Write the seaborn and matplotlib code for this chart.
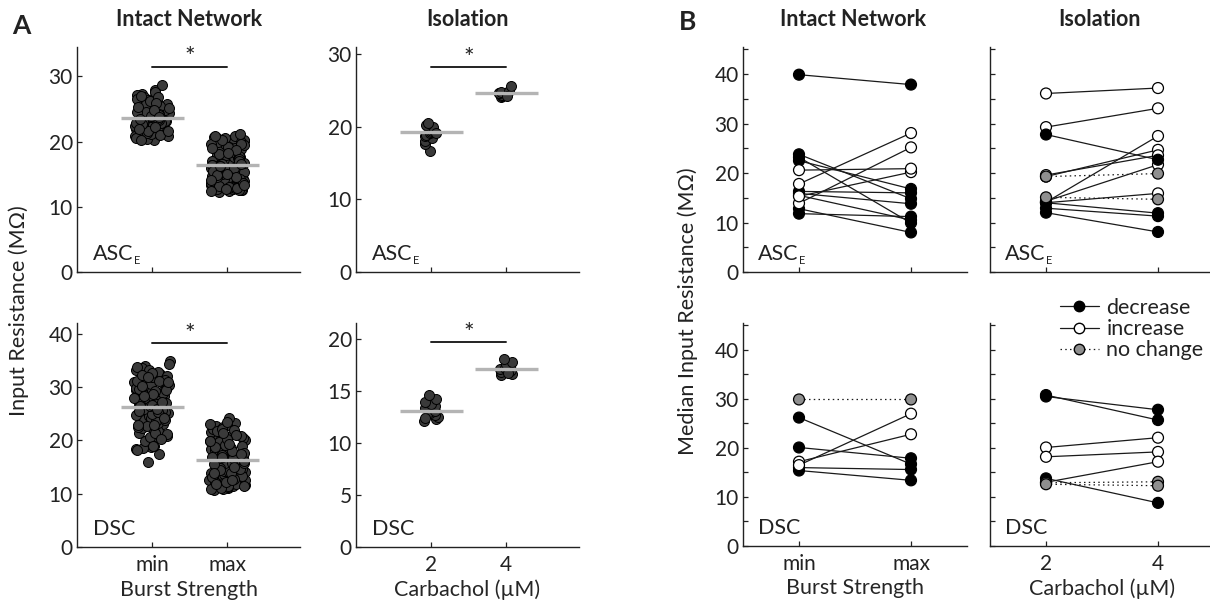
import numpy as np
import pandas as pd
import matplotlib
matplotlib.use("Agg")
import matplotlib.pyplot as plt
import seaborn as sns
from matplotlib.lines import Line2D

# ---------------- data ----------------
# Panel A : all measured values (MOhm)
asc_int_min = [20.3, 22.7, 24.9, 26.5, 23.1, 21.4, 25.6, 27.3, 22.0, 24.2, 20.8, 23.8, 26.1, 21.9, 25.0,
               27.9, 22.4, 24.6, 20.6, 23.4, 26.8, 21.2, 25.3, 22.9, 24.0, 28.6, 21.7, 23.6, 26.3, 20.9,
               24.4, 22.2, 25.8, 23.2, 21.5, 27.1, 24.7, 22.6, 20.4, 23.9, 26.0, 21.1, 25.4, 23.5, 22.1,
               24.8, 27.6, 21.8, 23.0, 25.2, 20.7, 24.1, 22.5, 26.6, 23.7, 21.3, 25.5, 22.8, 24.3, 23.3,
               21.6, 23.4, 25.7, 22.3, 24.5, 26.2, 20.5, 23.1, 25.1, 22.7, 24.0, 26.9, 21.0, 23.9, 25.9,
               22.9, 24.6, 20.2, 23.5, 25.3, 22.0, 24.9, 27.0, 21.6, 23.8]
asc_int_max = [12.4, 13.1, 12.8, 14.2, 15.6, 13.7, 16.9, 18.3, 19.5, 20.4, 12.6, 14.9, 17.2, 19.1, 16.1,
               13.4, 15.2, 18.8, 20.1, 17.6, 12.9, 14.4, 16.5, 19.8, 15.9, 13.9, 18.0, 20.6, 17.4, 14.7,
               12.5, 16.3, 19.3, 15.0, 13.3, 17.9, 20.9, 16.7, 14.1, 18.5, 12.7, 15.4, 19.6, 17.0, 13.6,
               16.4, 20.3, 14.5, 18.6, 15.7, 12.3, 17.7, 19.9, 13.8, 16.0, 21.2, 14.8, 18.2, 15.3, 13.0,
               17.3, 19.0, 16.6, 12.9, 20.7, 15.8, 14.3, 18.9, 16.2, 13.5, 17.5, 19.4, 15.1, 12.8, 20.0,
               16.8, 14.0, 18.4, 15.5, 13.2, 17.1, 19.7, 16.4, 14.6,
               12.5, 14.3, 16.2, 18.1, 20.5, 13.1, 15.5, 17.8, 19.2, 12.9, 14.9, 16.7, 18.7, 20.2, 13.6,
               15.9, 17.4, 19.6, 12.4, 14.6, 16.3, 18.3, 20.8, 13.3, 15.1, 17.0, 19.0, 12.7, 14.1, 16.6]
asc_iso_2 = [16.7, 17.6, 18.0, 18.4, 18.7, 18.9, 19.1, 19.3, 19.4, 19.6, 19.8, 20.0, 20.2, 20.5, 19.2]
asc_iso_4 = [24.1, 24.3, 24.4, 24.5, 24.6, 24.6, 24.7, 24.8, 25.0, 25.6, 24.2]
dsc_int_min = [17.5, 16.0, 18.3, 19.2, 20.1, 20.6, 21.4, 22.3, 23.0, 23.8, 24.5, 25.1, 25.9, 26.6, 27.3,
               28.0, 28.8, 29.5, 30.2, 31.0, 31.7, 32.5, 33.2, 34.0, 34.8, 34.3, 18.8, 20.4, 22.0, 23.5,
               25.4, 26.9, 28.4, 29.9, 31.4, 32.9, 19.6, 21.8, 24.1, 26.3, 27.8, 29.2, 30.7, 32.1, 33.6,
               18.5, 20.9, 22.7, 24.8, 26.1, 27.6, 29.0, 30.5, 31.9, 33.1, 19.9, 21.1, 23.3, 25.6, 27.0,
               28.6, 30.0, 31.3, 32.6, 20.2, 22.5, 24.3, 26.5, 28.2, 29.7, 31.1, 23.7, 25.0, 27.4, 28.9,
               30.3, 18.1, 26.8, 29.3, 25.3,
               19.0, 21.6, 23.9, 26.4, 28.7, 31.2, 33.8, 20.7, 22.9, 25.5, 27.9, 30.1, 32.3, 18.9, 21.3,
               24.2, 26.7, 29.4, 31.8, 20.3, 22.8, 25.8, 28.3, 30.9, 27.2]
dsc_int_max = [10.6, 11.2, 11.7, 12.3, 12.8, 13.4, 13.9, 14.5, 15.0, 15.6, 16.1, 16.7, 17.2, 17.8, 18.3,
               18.9, 19.4, 20.0, 20.5, 21.1, 21.6, 22.2, 22.7, 23.3, 24.2, 11.0, 11.9, 12.6, 13.2, 14.1,
               14.8, 15.4, 16.3, 17.0, 17.6, 18.5, 19.2, 20.3, 21.4, 22.5, 23.0, 11.4, 12.1, 12.9, 13.6,
               14.3, 15.2, 15.9, 16.5, 17.4, 18.1, 19.0, 19.8, 20.8, 21.9, 10.9, 11.6, 12.4, 13.0, 13.7,
               14.6, 15.3, 16.0, 16.9, 17.9, 18.7, 19.6, 20.6, 21.7, 22.9, 11.3, 12.0, 12.7, 13.5, 14.2,
               15.1, 16.4, 17.3, 11.8, 12.5, 13.3, 14.0, 14.9, 15.7, 22.0, 11.5,
               11.1, 12.2, 13.1, 14.4, 15.5, 16.6, 17.7, 18.8, 19.9, 21.0, 22.1, 23.5, 10.8, 11.9, 12.8,
               13.8, 14.7, 15.8, 16.8, 18.0, 19.1, 20.2, 21.3, 11.4, 12.6, 13.9, 15.0, 16.2, 17.5, 19.3]
dsc_iso_2 = [12.1, 12.3, 12.5, 12.7, 12.9, 13.0, 13.1, 13.3, 13.5, 13.7, 13.9, 14.2, 14.6, 12.4]
dsc_iso_4 = [16.5, 16.6, 16.8, 16.9, 17.0, 17.1, 17.2, 17.4, 17.6, 17.8, 18.0, 16.7]

# group medians (grey bars)
med_asc_int = [23.6, 16.4]
med_asc_iso = [19.3, 24.6]
med_dsc_int = [26.3, 16.3]
med_dsc_iso = [13.1, 17.05]

burst_labels = ["min", "max"]
carb_labels = ["2", "4"]

# Panel B : per-cell medians (first, second condition) and direction of change
b_asc_int_pre = [39.9, 23.8, 23.2, 22.5, 16.3, 15.9, 15.5, 12.8, 11.8, 17.8, 13.9, 15.3, 20.6]
b_asc_int_post = [37.9, 14.8, 9.9, 16.8, 16.0, 13.8, 10.5, 8.0, 11.2, 28.1, 25.2, 20.2, 20.9]
b_asc_int_chg = ["decrease"] * 9 + ["increase"] * 4

b_asc_iso_pre = [36.1, 29.3, 19.3, 19.6, 14.1, 14.3, 14.0, 27.8, 14.0, 12.9, 12.0, 19.3, 15.1]
b_asc_iso_post = [37.2, 33.1, 24.7, 23.6, 27.5, 21.7, 15.9, 22.7, 11.9, 11.3, 8.1, 19.9, 14.7]
b_asc_iso_chg = ["increase"] * 7 + ["decrease"] * 4 + ["no change"] * 2

b_dsc_int_pre = [29.9, 26.2, 20.1, 16.0, 15.4, 17.2, 16.5]
b_dsc_int_post = [29.9, 16.7, 17.9, 15.6, 13.4, 22.8, 27.0]
b_dsc_int_chg = ["no change", "decrease", "decrease", "decrease", "decrease", "increase", "increase"]

b_dsc_iso_pre = [30.8, 30.5, 20.1, 18.2, 13.0, 13.8, 12.9, 12.6]
b_dsc_iso_post = [25.7, 27.8, 22.1, 19.2, 17.2, 8.8, 13.1, 12.3]
b_dsc_iso_chg = ["decrease", "decrease", "increase", "increase", "increase", "decrease", "no change", "no change"]

# ---------------- style ----------------
sns.set_theme(style="ticks")
plt.rcParams["font.family"] = ["Lato", "DejaVu Sans"]
plt.rcParams["axes.edgecolor"] = "#222222"
plt.rcParams["xtick.color"] = "#222222"
plt.rcParams["ytick.color"] = "#222222"
plt.rcParams["text.color"] = "#222222"

TICK_FS = 15
LAB_FS = 15.5
TITLE_FS = 15.5

np.random.seed(3)

fig = plt.figure(figsize=(12.1, 6.05), dpi=100)
W, H = 1210.0, 605.0


def add_ax(x0, y_bottom, w, h):
    return fig.add_axes([x0 / W, 1 - y_bottom / H, w / W, h / H])


axA = [[add_ax(77, 272, 223, 225), add_ax(356, 272, 223, 225)],
       [add_ax(77, 547, 223, 224), add_ax(356, 547, 223, 224)]]
axB = [[add_ax(743, 272, 224, 225), add_ax(990, 272, 224, 225)],
       [add_ax(743, 546, 224, 223), add_ax(990, 546, 224, 223)]]


def style_ax(ax):
    sns.despine(ax=ax)
    for s in ("left", "bottom"):
        ax.spines[s].set_linewidth(1.0)
    ax.tick_params(direction="in", length=3.5, width=0.9, labelsize=TICK_FS, pad=3)
    ax.tick_params(axis="x", pad=6)
    ax.set_xlabel("")
    ax.set_ylabel("")


def add_tag(ax, x, tag):
    if tag == "ASC":
        t = ax.text(x, 0.035, "ASC", transform=ax.transAxes, fontsize=LAB_FS, ha="left", va="bottom")
        ax.annotate("E", xy=(1.0, 0.0), xycoords=t, xytext=(0.5, -1.5), textcoords="offset points",
                    fontsize=8, ha="left", va="bottom")
    else:
        ax.text(x, 0.035, tag, transform=ax.transAxes, fontsize=LAB_FS, ha="left", va="bottom")


def panel_A(ax, v1, v2, labels, med, ylim, yticks, sig_y, jit, show_x, xlabel, tag):
    df = pd.DataFrame({"g": [labels[0]] * len(v1) + [labels[1]] * len(v2),
                       "v": list(v1) + list(v2)})
    sns.stripplot(data=df, x="g", y="v", order=labels, ax=ax, jitter=jit, size=7.2,
                  color="#3a3a3a", edgecolor="black", linewidth=0.7, zorder=2)
    ax.hlines(med, [i - 0.42 for i in range(2)], [i + 0.42 for i in range(2)],
              color="#b4b4b4", lw=2.4, zorder=3)
    ax.plot([0, 1], [sig_y, sig_y], color="#222222", lw=1.4)
    ax.annotate("*", xy=(0.5, sig_y), xytext=(0, -2), textcoords="offset points",
                ha="center", va="bottom", fontsize=18)
    ax.set_xlim(-1, 1.97)
    ax.set_ylim(*ylim)
    ax.set_yticks(yticks)
    ax.set_xticks([0, 1])
    style_ax(ax)
    if show_x:
        ax.set_xticklabels(labels)
        ax.set_xlabel(xlabel, fontsize=LAB_FS, labelpad=3)
    else:
        ax.set_xticklabels([])
    add_tag(ax, 0.07, tag)


panel_A(axA[0][0], asc_int_min, asc_int_max, burst_labels, med_asc_int, (0, 34.5), [0, 10, 20, 30],
        31.5, 0.24, False, "", "ASC")
panel_A(axA[0][1], asc_iso_2, asc_iso_4, carb_labels, med_asc_iso, (0, 31), [0, 10, 20, 30],
        28.2, 0.1, False, "", "ASC")
panel_A(axA[1][0], dsc_int_min, dsc_int_max, burst_labels, med_dsc_int, (0, 42), [0, 10, 20, 30, 40],
        38.3, 0.24, True, "Burst Strength", "DSC")
panel_A(axA[1][1], dsc_iso_2, dsc_iso_4, carb_labels, med_dsc_iso, (0, 21.5), [0, 5, 10, 15, 20],
        19.7, 0.1, True, "Carbachol (µM)", "DSC")

pal = {"decrease": "black", "increase": "white", "no change": "#8f8f8f"}
dash = {"decrease": "", "increase": "", "no change": (1.2, 2.6)}


def panel_B(ax, pre, post, chg, labels, show_x, show_y, xlabel, tag):
    n = len(pre)
    df = pd.DataFrame({"pair": list(range(n)) * 2,
                       "cond": [0] * n + [1] * n,
                       "val": list(pre) + list(post),
                       "change": list(chg) * 2})
    sns.lineplot(data=df, x="cond", y="val", units="pair", estimator=None, style="change",
                 dashes=dash, color="#1a1a1a", lw=0.9, legend=False, ax=ax, sort=False, zorder=1)
    sns.scatterplot(data=df, x="cond", y="val", hue="change", palette=pal, edgecolor="black",
                    s=62, linewidth=0.9, legend=False, ax=ax, zorder=3)
    ax.set_xlim(-0.5, 1.5)
    ax.set_ylim(0, 45.5)
    ax.set_yticks(np.arange(0, 50, 5))
    style_ax(ax)
    if show_y:
        ax.set_yticklabels(["0", "", "10", "", "20", "", "30", "", "40", ""])
    else:
        ax.set_yticklabels([])
    ax.set_xticks([0, 1])
    if show_x:
        ax.set_xticklabels(labels)
        ax.set_xlabel(xlabel, fontsize=LAB_FS, labelpad=3)
    else:
        ax.set_xticklabels([])
    add_tag(ax, 0.067, tag)


panel_B(axB[0][0], b_asc_int_pre, b_asc_int_post, b_asc_int_chg, burst_labels, False, True, "", "ASC")
panel_B(axB[0][1], b_asc_iso_pre, b_asc_iso_post, b_asc_iso_chg, carb_labels, False, False, "", "ASC")
panel_B(axB[1][0], b_dsc_int_pre, b_dsc_int_post, b_dsc_int_chg, burst_labels, True, True,
        "Burst Strength", "DSC")
panel_B(axB[1][1], b_dsc_iso_pre, b_dsc_iso_post, b_dsc_iso_chg, carb_labels, True, False,
        "Carbachol (µM)", "DSC")

# legend
handles = [Line2D([0], [0], color="#1a1a1a", lw=0.9, marker="o", ms=7.5, mfc="black", mec="black"),
           Line2D([0], [0], color="#1a1a1a", lw=0.9, marker="o", ms=7.5, mfc="white", mec="black"),
           Line2D([0], [0], color="#1a1a1a", lw=0.9, ls=(0, (1.2, 2.6)), marker="o", ms=7.5,
                  mfc="#8f8f8f", mec="black")]
fig.legend(handles, ["decrease", "increase", "no change"], loc="upper left",
           bbox_to_anchor=(1060 / W, 1 - 298 / H), frameon=False, fontsize=LAB_FS,
           handlelength=1.8, handletextpad=0.35, labelspacing=0.05, borderpad=0, borderaxespad=0)

# titles and labels
fig.text(21 / W, 1 - 26 / H, "A", fontsize=19, fontweight="bold", ha="center", va="center")
fig.text(688 / W, 1 - 22 / H, "B", fontsize=19, fontweight="bold", ha="center", va="center")
for xc, t in [(189, "Intact Network"), (468, "Isolation"), (853, "Intact Network"), (1100, "Isolation")]:
    fig.text(xc / W, 1 - 20 / H, t, fontsize=TITLE_FS, fontweight="bold", ha="center", va="center")
fig.text(19 / W, 1 - 311 / H, "Input Resistance (MΩ)", rotation=90, fontsize=LAB_FS,
         ha="center", va="center")
fig.text(688 / W, 1 - 311 / H, "Median Input Resistance (MΩ)", rotation=90, fontsize=LAB_FS,
         ha="center", va="center")

fig.savefig("out.png", dpi=100)
